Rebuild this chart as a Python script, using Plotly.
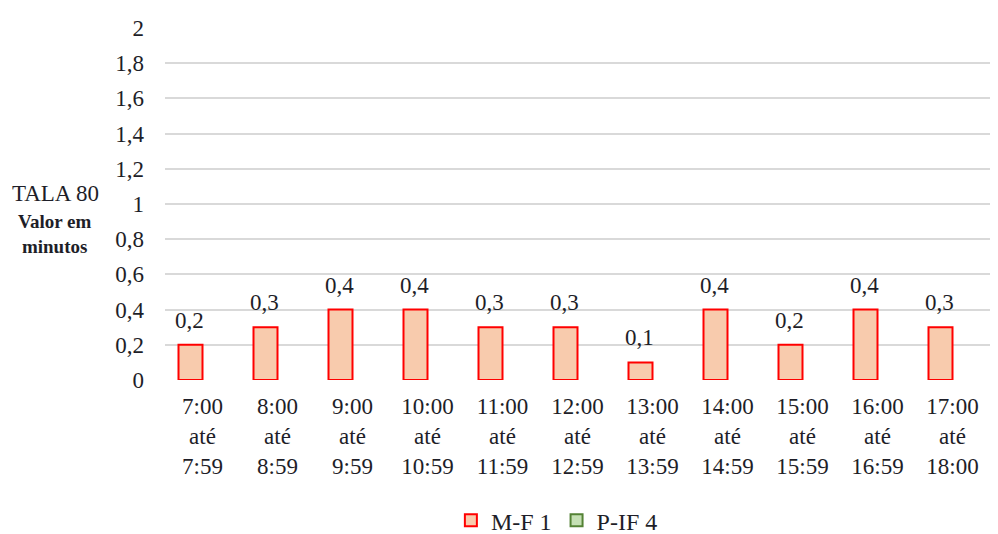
import plotly.graph_objects as go

categories = ["7:00<br>até<br>7:59", "8:00<br>até<br>8:59", "9:00<br>até<br>9:59",
              "10:00<br>até<br>10:59", "11:00<br>até<br>11:59", "12:00<br>até<br>12:59",
              "13:00<br>até<br>13:59", "14:00<br>até<br>14:59", "15:00<br>até<br>15:59",
              "16:00<br>até<br>16:59", "17:00<br>até<br>18:00"]
mf1 = [0.2, 0.3, 0.4, 0.4, 0.3, 0.3, 0.1, 0.4, 0.2, 0.4, 0.3]
pif4 = [0, 0, 0, 0, 0, 0, 0, 0, 0, 0, 0]

FONT = "Liberation Serif"
TXT = "#1e1e28"
FS = 23

fig = go.Figure()
fig.add_trace(go.Bar(x=categories, y=mf1, name="M-F 1",
                     marker=dict(color="#F8CBAD", line=dict(color="#FF0000", width=2))))
# zero-valued series: reserve its slot in the group, but draw nothing at height 0
fig.add_trace(go.Bar(x=categories, y=[v if v else None for v in pif4], name="P-IF 4",
                     marker=dict(color="#C5E0B4", line=dict(color="#548235", width=2))))

for c, v in zip(categories, mf1):
    fig.add_annotation(x=c, y=v, xref="x", yref="y", text=f"{v:.1f}".replace(".", ","),
                       showarrow=False, yanchor="bottom", xshift=-13, yshift=10,
                       font=dict(family=FONT, size=FS, color=TXT))

fig.add_annotation(x=0, y=1.06, xref="paper", yref="y", text="TALA 80", xanchor="center",
                   xshift=-110, showarrow=False, font=dict(family=FONT, size=23, color=TXT))
fig.add_annotation(x=0, y=0.83, xref="paper", yref="y", text="<b>Valor em<br>minutos</b>",
                   xanchor="center", xshift=-110,
                   showarrow=False, font=dict(family=FONT, size=19, color=TXT))

fig.update_layout(
    width=998, height=534,
    margin=dict(l=165, r=8, t=28, b=154, autoexpand=False),
    paper_bgcolor="white", plot_bgcolor="white",
    separators=",.",
    barmode="group", bargap=0.36, bargroupgap=0,
    font=dict(family=FONT, size=FS, color=TXT),
    showlegend=True,
    legend=dict(orientation="h", x=0.475, xanchor="center", yref="container", y=0.025,
                yanchor="middle", font=dict(family=FONT, size=24, color=TXT), itemwidth=30),
)
fig.update_yaxes(range=[0, 2], dtick=0.2, showgrid=True, gridcolor="#d9d9d9", gridwidth=1.5,
                 zeroline=False, showline=False, ticklabelstandoff=20, automargin=False,
                 tickfont=dict(family=FONT, size=FS, color=TXT))
fig.update_xaxes(showline=False, showgrid=False, ticklabelstandoff=10, automargin=False,
                 tickfont=dict(family=FONT, size=FS, color=TXT))

fig.write_html("out.html")
